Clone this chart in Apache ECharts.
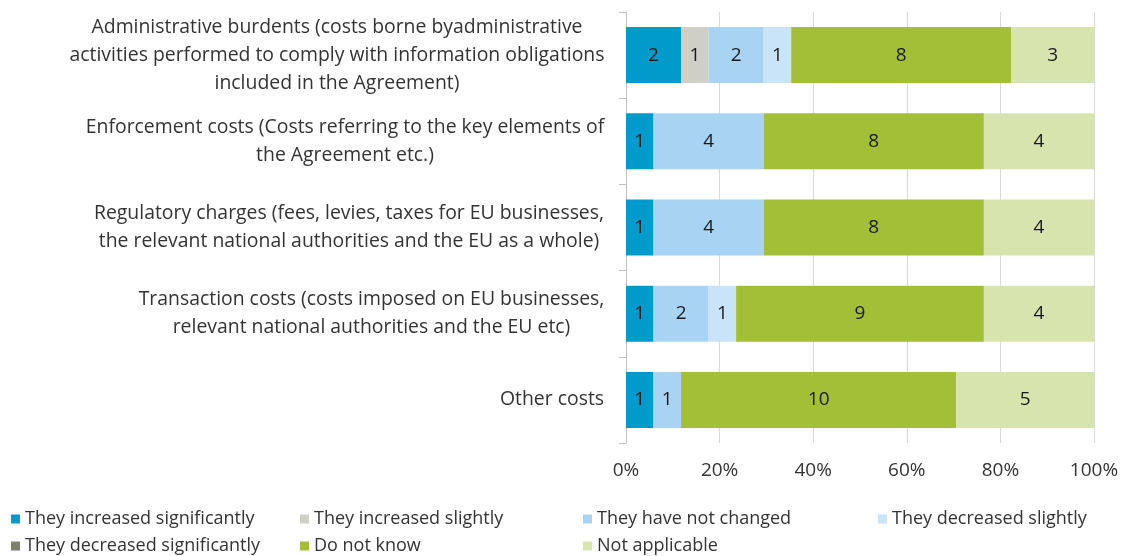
<!DOCTYPE html>
<html>
<head>
<meta charset="utf-8">
<script src="https://cdn.jsdelivr.net/npm/echarts@6/dist/echarts.min.js"></script>
<style>
  html, body { margin: 0; padding: 0; background: #fff; }
  #chart { width: 1129px; height: 556px; }
</style>
</head>
<body>
<div id="chart"></div>
<script>
// categories (top to bottom)
const categories = [
  'Administrative burdents (costs borne byadministrative\nactivities performed to comply with information obligations\nincluded in the Agreement)',
  'Enforcement costs (Costs referring to the key elements of\nthe Agreement etc.)',
  'Regulatory charges (fees, levies, taxes for EU businesses,\nthe relevant national authorities and the EU as a whole)',
  'Transaction costs (costs imposed on EU businesses,\nrelevant national authorities and the EU etc)',
  'Other costs'
]

// counts per answer
const increasedSignificantly = [2, 1, 1, 1, 1]
const increasedSlightly = [1, 0, 0, 0, 0]
const notChanged = [2, 4, 4, 2, 1]
const decreasedSlightly = [1, 0, 0, 1, 0]
const decreasedSignificantly = [0, 0, 0, 0, 0]
const doNotKnow = [8, 8, 8, 9, 10]
const notApplicable = [3, 4, 4, 4, 5]

const xTicks = ['0%', '20%', '40%', '60%', '80%', '100%']

const seriesDefs = [
  { name: 'They increased significantly', data: increasedSignificantly, color: '#009bcb' },
  { name: 'They increased slightly', data: increasedSlightly, color: '#cfcfc6' },
  { name: 'They have not changed', data: notChanged, color: '#a8d3f3' },
  { name: 'They decreased slightly', data: decreasedSlightly, color: '#c9e3f8' },
  { name: 'They decreased significantly', data: decreasedSignificantly, color: '#7f7f6f' },
  { name: 'Do not know', data: doNotKnow, color: '#a2bf37' },
  { name: 'Not applicable', data: notApplicable, color: '#d8e4ae' }
]

const totals = categories.map((c, i) => seriesDefs.reduce((s, d) => s + d.data[i], 0))

const font = 'Open Sans'
const catFontSize = 19.4
const textColor = '#333333'

// width of the widest line of each label, so lines can be centred inside a right-aligned block
const ctx = document.createElement('canvas').getContext('2d')
ctx.font = catFontSize + 'px "' + font + '"'
const catRich = {}
categories.forEach((c, i) => {
  const w = Math.max(...c.split('\n').map(l => ctx.measureText(l).width))
  catRich['c' + i] = {
    width: Math.ceil(w) + 1,
    align: 'center',
    fontFamily: font,
    fontSize: catFontSize,
    lineHeight: 28,
    color: textColor
  }
})

const chart = echarts.init(document.getElementById('chart'))

const legendBase = {
  orient: 'vertical',
  top: 508,
  height: 60,
  padding: 0,
  itemWidth: 9,
  itemHeight: 9,
  itemGap: 5,
  icon: 'rect',
  textStyle: { fontFamily: font, fontSize: 18, color: textColor, lineHeight: 22 },
  selectedMode: false
}

const option = {
  animation: false,
  grid: { left: 626, right: 35, top: 12, bottom: 113 },
  legend: [
    Object.assign({ left: 11, data: ['They increased significantly', 'They decreased significantly'] }, legendBase),
    Object.assign({ left: 300, data: ['They increased slightly', 'Do not know'] }, legendBase),
    Object.assign({ left: 583, data: ['They have not changed', 'Not applicable'] }, legendBase),
    Object.assign({ left: 878, data: ['They decreased slightly'] }, legendBase)
  ],
  xAxis: {
    type: 'value',
    min: 0,
    max: 100,
    interval: 20,
    axisLine: { show: false },
    axisTick: { show: false },
    splitLine: { lineStyle: { color: '#d9d9d9', width: 1 } },
    axisLabel: {
      fontFamily: font,
      fontSize: 19,
      color: textColor,
      margin: 18,
      formatter: v => xTicks[Math.round(v / 20)]
    }
  },
  yAxis: {
    type: 'category',
    inverse: true,
    data: categories,
    axisLine: { lineStyle: { color: '#bfbfbf' } },
    axisTick: { show: true, length: 7, lineStyle: { color: '#bfbfbf' } },
    axisLabel: {
      align: 'right',
      margin: 21,
      rich: catRich,
      formatter: (v, i) => v.split('\n').map(l => '{c' + i + '|' + l + '}').join('\n')
    }
  },
  series: seriesDefs.map(d => ({
    name: d.name,
    type: 'bar',
    stack: 'total',
    barWidth: 56,
    itemStyle: { color: d.color },
    label: {
      show: true,
      position: 'inside',
      fontFamily: font,
      fontSize: 19,
      color: '#1a1a1a',
      formatter: p => (d.data[p.dataIndex] > 0 ? String(d.data[p.dataIndex]) : '')
    },
    data: d.data.map((v, i) => v / totals[i] * 100)
  }))
}

chart.setOption(option)

window.onresize = () => {
  chart.resize()
}
</script>
</body>
</html>
